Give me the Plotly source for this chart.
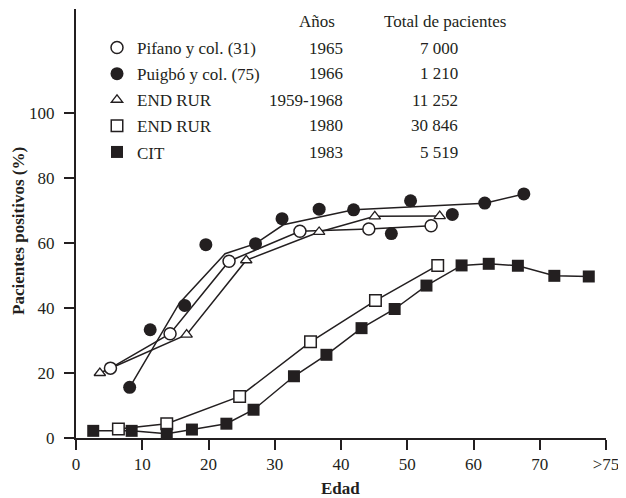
import plotly.graph_objects as go

# ---- data ----
pifano_x = [5.2, 14.2, 23.1, 33.8, 44.2, 53.6]
pifano_y = [21.5, 32.1, 54.4, 63.6, 64.3, 65.3]

puigbo_x = [8.1, 11.2, 16.4, 19.6, 27.1, 31.1, 36.7, 41.9, 47.6, 50.5, 56.8, 61.7, 67.6]
puigbo_y = [15.6, 33.3, 40.8, 59.5, 59.8, 67.5, 70.4, 70.2, 62.9, 73.0, 68.8, 72.3, 75.1]
puigbo_fit_x = [8.1, 15.6, 22.5, 27.1, 31.3, 41.9, 61.7, 67.6]
puigbo_fit_y = [15.6, 41.5, 56.7, 59.8, 65.6, 70.2, 72.2, 75.1]

endrur59_x = [3.6, 16.7, 25.7, 36.7, 45.1, 54.9]
endrur59_y = [20.0, 31.8, 54.7, 63.4, 68.2, 68.3]

endrur80_x = [6.4, 13.7, 24.7, 35.4, 45.2, 54.6]
endrur80_y = [2.8, 4.4, 12.8, 29.6, 42.3, 53.1]

cit_x = [2.6, 8.4, 13.7, 17.5, 22.7, 26.8, 32.9, 37.8, 43.1, 48.1, 52.9, 58.2, 62.3, 66.7, 72.2, 77.4]
cit_y = [2.2, 2.2, 1.3, 2.6, 4.4, 8.7, 19.0, 25.6, 33.8, 39.7, 46.9, 53.1, 53.6, 53.0, 49.9, 49.7]

series_names = ["Pifano y col. (31)", "Puigbó y col. (75)", "END RUR", "END RUR", "CIT"]
series_years = ["1965", "1966", "1959-1968", "1980", "1983"]
series_totals = ["7 000", "1 210", "11 252", "30 846", "5 519"]

x_tickvals = [0, 10, 20, 30, 40, 50, 60, 70, 80]
x_ticktext = ["0", "10", "20", "30", "40", "50", "60", "70", ">75"]
y_tickvals = [0, 20, 40, 60, 80, 100]

FONT = "Liberation Serif"
INK = "#231f20"

fig = go.Figure()

line_style = dict(color=INK, width=1.5)

# connecting lines (no legend)
for xs, ys in [(pifano_x, pifano_y), (puigbo_fit_x, puigbo_fit_y),
               (endrur59_x, endrur59_y), (endrur80_x, endrur80_y), (cit_x, cit_y)]:
    fig.add_trace(go.Scatter(x=xs, y=ys, mode="lines", line=line_style,
                             showlegend=False, hoverinfo="skip", cliponaxis=False))

marker_specs = [
    (pifano_x, pifano_y, dict(symbol="circle", size=12, color="white", line=dict(color=INK, width=1.5))),
    (puigbo_x, puigbo_y, dict(symbol="circle", size=13, color=INK, line=dict(color=INK, width=0))),
    (endrur59_x, endrur59_y, dict(symbol="triangle-up", size=10, color="white", line=dict(color=INK, width=1.3))),
    (endrur80_x, endrur80_y, dict(symbol="square", size=11.5, color="white", line=dict(color=INK, width=1.5))),
    (cit_x, cit_y, dict(symbol="square", size=12, color=INK, line=dict(color=INK, width=0))),
]
for i, (xs, ys, mk) in enumerate(marker_specs):
    fig.add_trace(go.Scatter(x=xs, y=ys, mode="markers", marker=mk,
                             name=series_names[i], legendgroup=f"g{i}",
                             cliponaxis=False))

# reference-pixel helpers (plot area: x 76..606, y 9..438 in the reference)
row_px = [48, 74, 100, 126, 152]
def py(p):
    return (438 - p) / 429.0
def px(p):
    return (p - 76) / 530.0

txtfont = dict(family=FONT, size=17, color=INK)
anns = []
anns.append(dict(text="Años", x=px(317), y=py(22), xref="paper", yref="paper",
                 xanchor="center", yanchor="middle", showarrow=False, font=txtfont))
anns.append(dict(text="Total de pacientes", x=px(445), y=py(22), xref="paper", yref="paper",
                 xanchor="center", yanchor="middle", showarrow=False, font=txtfont))
for i in range(5):
    anns.append(dict(text=series_years[i], x=px(345), y=py(row_px[i]), xref="paper", yref="paper",
                     xanchor="right", yanchor="middle", showarrow=False, font=txtfont))
    anns.append(dict(text=series_totals[i], x=px(460), y=py(row_px[i]), xref="paper", yref="paper",
                     xanchor="right", yanchor="middle", showarrow=False, font=txtfont))
anns.append(dict(text="<b>Pacientes positivos (%)</b>", x=px(18), y=py(231), xref="paper", yref="paper",
                 xanchor="center", yanchor="middle", textangle=-90, showarrow=False, font=txtfont))
anns.append(dict(text="<b>Edad</b>", x=px(340), y=py(488), xref="paper", yref="paper",
                 xanchor="center", yanchor="middle", showarrow=False, font=txtfont))

# page body adds an 8px offset, so the figure is 618x490 with margins shifted by 8px
fig.update_layout(
    width=618, height=490,
    margin=dict(l=68, r=20, t=1, b=60, autoexpand=False),
    paper_bgcolor="white", plot_bgcolor="white",
    font=txtfont,
    showlegend=True,
    legend=dict(x=px(97), y=py(30), xanchor="left", yanchor="top",
                traceorder="grouped", tracegroupgap=1,
                bgcolor="rgba(0,0,0,0)", borderwidth=0,
                font=txtfont),
    annotations=anns,
    xaxis=dict(range=[0, 80], tickmode="array", tickvals=x_tickvals, ticktext=x_ticktext,
               showline=True, linecolor=INK, linewidth=2, ticks="outside", ticklen=10,
               tickwidth=1.5, tickcolor=INK, showgrid=False, zeroline=False,
               tickfont=txtfont),
    yaxis=dict(range=[0, 132], tickmode="array", tickvals=y_tickvals,
               showline=True, linecolor=INK, linewidth=2, ticks="outside", ticklen=10,
               tickwidth=1.5, tickcolor=INK, showgrid=False, zeroline=False,
               ticklabelstandoff=6, tickfont=txtfont),
)

fig.write_html("out.html")
